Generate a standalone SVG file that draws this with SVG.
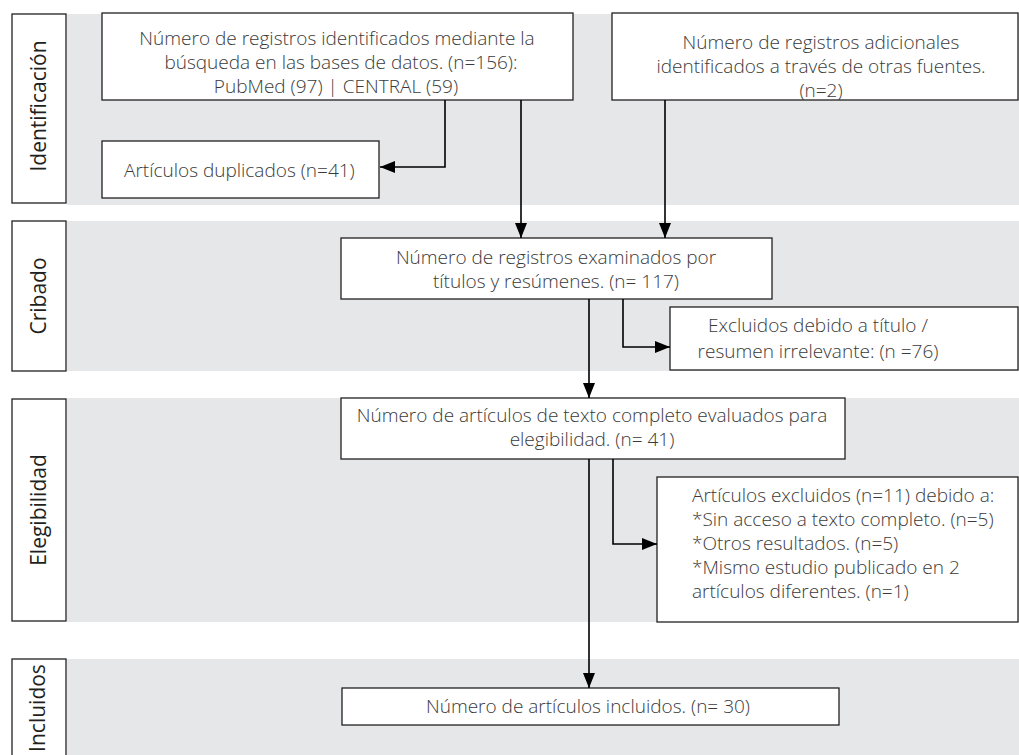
<svg xmlns="http://www.w3.org/2000/svg" width="1019" height="755" viewBox="0 0 1019 755">
<style>
.band{fill:#e6e7e8;stroke:none}
.lbl{fill:#fff;stroke:#231f20;stroke-width:1.3}
.box{fill:#fff;stroke:#231f20;stroke-width:1.3}
text{font-family:"Open Sans","Liberation Sans",sans-serif;font-size:19px;font-weight:300;fill:#3a3a3a}
.c{text-anchor:middle}
.lt{font-size:21px;font-weight:400;fill:#231f20;text-anchor:middle}
.conn{fill:none;stroke:#000;stroke-width:1.6}
</style>
<defs>
<marker id="ah" markerUnits="userSpaceOnUse" markerWidth="15" markerHeight="12" refX="15" refY="6" orient="auto">
<path d="M0,0 L15,6 L0,12 z" fill="#000"/>
</marker>
</defs>
<g id="bands">
<rect class="band" x="67" y="14" width="952" height="191"/>
<rect class="band" x="67" y="221" width="952" height="150"/>
<rect class="band" x="67" y="398" width="952" height="224"/>
<rect class="band" x="67" y="659" width="952" height="96"/>
</g>
<g id="lbl-identificacion">
<rect class="lbl" x="12" y="14" width="54" height="189"/>
<text class="lt" transform="translate(46,106) rotate(-90)">Identificación</text>
</g>
<g id="lbl-cribado">
<rect class="lbl" x="12" y="221" width="54" height="150"/>
<text class="lt" transform="translate(46,296) rotate(-90)">Cribado</text>
</g>
<g id="lbl-elegibilidad">
<rect class="lbl" x="12" y="399" width="54" height="222"/>
<text class="lt" transform="translate(46,510) rotate(-90)">Elegibilidad</text>
</g>
<g id="lbl-incluidos">
<rect class="lbl" x="12" y="659" width="54" height="100"/>
<text class="lt" transform="translate(45,708) rotate(-90)" font-size="19.5">Incluidos</text>
</g>
<g id="n-busqueda">
<rect class="box" x="102" y="13" width="471" height="87"/>
<text class="c" x="337" y="45">Número de registros identificados mediante la</text>
<text class="c" x="341" y="69">búsqueda en las bases de datos. (n=156):</text>
<text class="c" x="336" y="93">PubMed (97) | CENTRAL (59)</text>
</g>
<g id="n-otras">
<rect class="box" x="612" y="13" width="406" height="87"/>
<text class="c" x="821" y="49">Número de registros adicionales</text>
<text class="c" x="821" y="73">identificados a través de otras fuentes.</text>
<text class="c" x="821" y="97">(n=2)</text>
</g>
<g id="n-duplicados">
<rect class="box" x="102" y="141" width="277" height="57"/>
<text x="124" y="177">Artículos duplicados (n=41)</text>
</g>
<g id="n-examinados">
<rect class="box" x="341" y="238" width="431" height="61"/>
<text class="c" x="556" y="264">Número de registros examinados por</text>
<text class="c" x="556" y="288">títulos y resúmenes.  (n= 117)</text>
</g>
<g id="n-excl-titulo">
<rect class="box" x="670" y="307" width="348" height="63"/>
<text class="c" x="818" y="332">Excluidos debido a título /</text>
<text class="c" x="818" y="358">resumen irrelevante: (n =76)</text>
</g>
<g id="n-texto-completo">
<rect class="box" x="341" y="398" width="504" height="61"/>
<text class="c" x="592" y="422">Número de artículos de texto completo evaluados para</text>
<text class="c" x="592" y="446">elegibilidad.  (n= 41)</text>
</g>
<g id="n-excl-articulos">
<rect class="box" x="657" y="477" width="361" height="145"/>
<text x="692" y="502">Artículos excluidos (n=11) debido a:</text>
<text x="692" y="526">*Sin acceso a texto completo. (n=5)</text>
<text x="692" y="550">*Otros resultados. (n=5)</text>
<text x="692" y="574">*Mismo estudio publicado en 2</text>
<text x="692" y="598">artículos diferentes. (n=1)</text>
</g>
<g id="n-incluidos">
<rect class="box" x="342" y="688" width="497" height="37"/>
<text class="c" x="588" y="713">Número de artículos incluidos.  (n= 30)</text>
</g>
<g id="connectors">
<path class="conn" d="M445,100 V167 H380" marker-end="url(#ah)"/>
<path class="conn" d="M521,100 V238" marker-end="url(#ah)"/>
<path class="conn" d="M665,100 V238" marker-end="url(#ah)"/>
<path class="conn" d="M589,299 V398" marker-end="url(#ah)"/>
<path class="conn" d="M623,299 V347 H670" marker-end="url(#ah)"/>
<path class="conn" d="M589,459 V688" marker-end="url(#ah)"/>
<path class="conn" d="M613,459 V544 H657" marker-end="url(#ah)"/>
</g>
</svg>
